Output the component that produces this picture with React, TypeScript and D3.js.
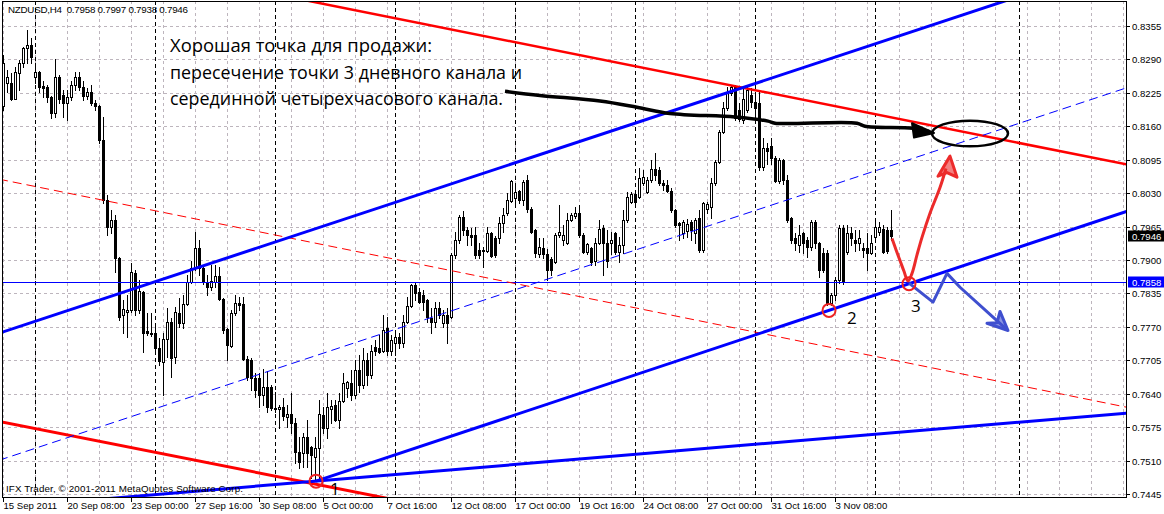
import { useEffect, useRef } from 'react';
import * as d3 from 'd3';

const W = 1164;
const H = 514;

// NZDUSD H4 candles, quotes in 1/10000: open, high, low, close
const candles: number[][] = [
  [8199, 8298, 8191, 8284], [8244, 8269, 8226, 8255], [8244, 8263, 8211, 8214], [8214, 8275, 8213, 8265],
  [8263, 8288, 8230, 8283], [8283, 8314, 8275, 8312], [8312, 8347, 8284, 8318], [8319, 8331, 8284, 8294],
  [8255, 8284, 8244, 8265], [8265, 8267, 8226, 8236], [8238, 8249, 8216, 8234], [8236, 8240, 8207, 8216],
  [8216, 8218, 8176, 8185], [8185, 8290, 8178, 8255], [8255, 8259, 8205, 8214], [8220, 8230, 8178, 8205],
  [8205, 8230, 8172, 8216], [8216, 8249, 8211, 8240], [8240, 8265, 8230, 8255], [8255, 8265, 8230, 8236],
  [8236, 8249, 8211, 8218], [8218, 8234, 8214, 8226], [8226, 8240, 8201, 8205], [8205, 8211, 8191, 8199],
  [8199, 8201, 8127, 8133], [8133, 8178, 8010, 8016], [8016, 8026, 7948, 7964], [7964, 7997, 7952, 7977],
  [7977, 7987, 7876, 7903], [7903, 7905, 7783, 7789], [7793, 7822, 7759, 7804], [7798, 7831, 7750, 7802],
  [7802, 7894, 7798, 7876], [7874, 7880, 7793, 7802], [7802, 7861, 7796, 7839], [7837, 7839, 7721, 7759],
  [7761, 7796, 7754, 7758], [7759, 7796, 7752, 7757], [7758, 7777, 7721, 7728], [7728, 7748, 7695, 7703],
  [7701, 7758, 7637, 7746], [7746, 7806, 7711, 7779], [7779, 7787, 7672, 7709], [7711, 7808, 7699, 7798],
  [7796, 7826, 7769, 7777], [7777, 7831, 7767, 7814], [7814, 7870, 7812, 7857], [7857, 7899, 7855, 7884],
  [7884, 7954, 7880, 7923], [7923, 7938, 7870, 7884], [7884, 7890, 7853, 7857], [7857, 7870, 7831, 7847],
  [7847, 7890, 7841, 7859], [7857, 7890, 7847, 7868], [7868, 7886, 7822, 7824], [7824, 7826, 7759, 7763],
  [7765, 7767, 7705, 7734], [7732, 7802, 7730, 7796], [7796, 7831, 7793, 7816], [7816, 7828, 7802, 7812],
  [7814, 7828, 7705, 7707], [7707, 7713, 7666, 7672], [7705, 7709, 7647, 7670], [7670, 7680, 7633, 7647],
  [7670, 7680, 7614, 7637], [7637, 7689, 7618, 7653], [7653, 7684, 7604, 7614], [7653, 7656, 7608, 7612],
  [7612, 7643, 7604, 7610], [7610, 7618, 7573, 7614], [7614, 7631, 7588, 7596], [7594, 7618, 7575, 7600],
  [7600, 7641, 7563, 7584], [7584, 7592, 7505, 7526], [7526, 7555, 7495, 7507], [7524, 7563, 7497, 7555],
  [7555, 7588, 7497, 7524], [7536, 7538, 7476, 7520], [7516, 7555, 7472, 7534], [7534, 7628, 7472, 7600],
  [7598, 7614, 7563, 7573], [7573, 7641, 7553, 7614], [7610, 7628, 7583, 7616], [7618, 7628, 7586, 7588],
  [7588, 7641, 7573, 7625], [7625, 7680, 7623, 7660], [7651, 7665, 7633, 7662], [7660, 7686, 7627, 7637],
  [7637, 7705, 7631, 7686], [7686, 7715, 7643, 7656], [7656, 7728, 7651, 7705], [7705, 7719, 7656, 7676],
  [7676, 7734, 7670, 7724], [7730, 7745, 7715, 7724], [7728, 7754, 7719, 7722], [7724, 7793, 7721, 7763],
  [7767, 7789, 7715, 7724], [7724, 7754, 7715, 7745], [7739, 7761, 7715, 7750], [7750, 7758, 7728, 7739],
  [7739, 7793, 7730, 7779], [7779, 7828, 7777, 7810], [7810, 7853, 7808, 7851], [7851, 7855, 7822, 7835],
  [7837, 7845, 7816, 7818], [7831, 7842, 7802, 7818], [7822, 7824, 7779, 7789], [7787, 7806, 7758, 7779],
  [7779, 7818, 7769, 7806], [7806, 7818, 7787, 7794], [7777, 7802, 7769, 7794], [7794, 7806, 7739, 7777],
  [7789, 7913, 7787, 7909], [7909, 7954, 7903, 7938], [7938, 7987, 7934, 7983], [7983, 7995, 7948, 7958],
  [7958, 7964, 7929, 7948], [7948, 7962, 7929, 7944], [7948, 7964, 7903, 7909], [7919, 7933, 7903, 7909],
  [7917, 7925, 7886, 7919], [7917, 7964, 7915, 7952], [7952, 7954, 7905, 7907], [7942, 7946, 7905, 7909],
  [7942, 7983, 7934, 7971], [7971, 8001, 7954, 7987], [7991, 8030, 7987, 8016], [8014, 8055, 8012, 8053],
  [8020, 8045, 8010, 8032], [8034, 8036, 8010, 8016], [8016, 8055, 8006, 8051], [8055, 8065, 7993, 7999],
  [7999, 8003, 7952, 7954], [7958, 7960, 7905, 7913], [7911, 7942, 7905, 7925], [7923, 7942, 7903, 7911],
  [7911, 7921, 7861, 7880], [7901, 7905, 7870, 7880], [7896, 7952, 7894, 7948], [7948, 8006, 7944, 7954],
  [7938, 7968, 7929, 7948], [7934, 7991, 7932, 7977], [7977, 7991, 7975, 7987], [7985, 8003, 7981, 7991],
  [7991, 8006, 7944, 7948], [7948, 7952, 7913, 7915], [7915, 7933, 7911, 7931], [7923, 7925, 7890, 7896],
  [7899, 7942, 7890, 7934], [7934, 7977, 7932, 7960], [7962, 7969, 7870, 7933], [7933, 7958, 7886, 7899],
  [7933, 7954, 7911, 7938], [7952, 7954, 7911, 7915], [7915, 7944, 7896, 7929], [7929, 7997, 7913, 7977],
  [7977, 8032, 7973, 8022], [8012, 8032, 8010, 8028], [8028, 8032, 8006, 8012], [8022, 8078, 8020, 8059],
  [8049, 8075, 8045, 8061], [8032, 8061, 8030, 8055], [8055, 8095, 8051, 8076], [8076, 8108, 8055, 8065],
  [8075, 8080, 8045, 8049], [8049, 8055, 8036, 8045], [8045, 8055, 8032, 8034], [8034, 8040, 7993, 7997],
  [7997, 7999, 7964, 7968], [7971, 7973, 7938, 7968], [7952, 7977, 7942, 7973], [7956, 7980, 7944, 7970],
  [7973, 7977, 7938, 7958], [7952, 7981, 7933, 7977], [7981, 7997, 7915, 7919], [7919, 8012, 7915, 8010],
  [7999, 8012, 7991, 8008], [8003, 8059, 7981, 8049], [8049, 8095, 8045, 8090], [8090, 8152, 8088, 8148],
  [8148, 8207, 8146, 8195], [8195, 8236, 8191, 8226], [8224, 8240, 8220, 8236], [8236, 8240, 8172, 8176],
  [8191, 8205, 8170, 8174], [8172, 8236, 8166, 8214], [8191, 8240, 8187, 8230], [8220, 8234, 8197, 8207],
  [8207, 8224, 8172, 8195], [8205, 8226, 8075, 8080], [8080, 8137, 8075, 8118], [8118, 8127, 8086, 8112],
  [8122, 8137, 8086, 8099], [8099, 8103, 8051, 8053], [8053, 8099, 8049, 8095], [8095, 8097, 8047, 8055],
  [8055, 8065, 7973, 7977], [7981, 7983, 7933, 7938], [7942, 7952, 7919, 7934], [7929, 7968, 7915, 7948],
  [7952, 7954, 7913, 7933], [7938, 7944, 7905, 7925], [7925, 7977, 7919, 7973], [7973, 7977, 7923, 7933],
  [7933, 7935, 7866, 7880], [7913, 7923, 7876, 7880], [7913, 7919, 7812, 7816], [7816, 7835, 7812, 7831],
  [7831, 7866, 7822, 7861], [7861, 7968, 7855, 7962], [7962, 7968, 7853, 7857], [7915, 7968, 7911, 7952],
  [7952, 7964, 7929, 7942], [7938, 7958, 7917, 7934], [7934, 7958, 7919, 7942], [7923, 7934, 7905, 7919],
  [7923, 7952, 7880, 7913], [7913, 7948, 7911, 7934], [7944, 7977, 7942, 7964], [7954, 7973, 7948, 7964],
  [7960, 7968, 7913, 7915], [7958, 7964, 7913, 7917], [7958, 7997, 7938, 7946],
];

const priceTicks = [7445, 7510, 7575, 7640, 7705, 7770, 7835, 7900, 7965, 8030, 8095, 8160, 8225, 8290, 8355];
const dateLabels = [
  '15 Sep 2011', '20 Sep 08:00', '23 Sep 00:00', '27 Sep 16:00', '30 Sep 08:00', '5 Oct 00:00', '7 Oct 16:00',
  '12 Oct 08:00', '17 Oct 00:00', '19 Oct 16:00', '24 Oct 08:00', '27 Oct 00:00', '31 Oct 16:00', '3 Nov 08:00',
];
const dateBars = [0, 16, 32, 48, 64, 80, 96, 112, 128, 144, 160, 176, 192, 208];
const weekBars = [8, 38, 68, 98, 128, 158, 188, 218, 254];
const lastBar = 280.75;

// drawn objects, anchors as [bar, quote]
const trendLines = [
  { a: [183, 8238], b: [280.75, 8086], color: '#ff0000', width: 2.5, dash: null, ray: false },
  { a: [-0.25, 8056], b: [280.75, 7614], color: '#ff0000', width: 1, dash: '9,5', ray: false },
  { a: [-0.25, 7585], b: [78.25, 7464], color: '#ff0000', width: 3, dash: null, ray: false },
  { a: [21.75, 7816], b: [86.75, 7983], color: '#0000ff', width: 3, dash: null, ray: false },
  { a: [21.75, 7569], b: [86.75, 7736], color: '#0000ff', width: 1, dash: '9,5', ray: false },
  { a: [78.25, 7470], b: [206.5, 7802], color: '#0000ff', width: 3, dash: null, ray: true },
  { a: [78.25, 7470], b: [280.75, 7602], color: '#0000ff', width: 3, dash: null, ray: false },
];
const levelLine = 7858;
const lastClose = 7946;

const blackArrow = [
  [125.5, 8228], [134.25, 8220], [149.25, 8209], [158.5, 8197], [166.75, 8185], [183, 8178],
  [191.25, 8170], [193, 8166], [213.5, 8166], [215.5, 8160], [227.5, 8156], [231.5, 8150],
];
const blackHead = [[232.75, 8147], [227.25, 8166], [227.75, 8138]];
const target = { bar: 241.75, quote: 8146, rBars: 9.5, rQuote: 25 };

const points = [
  { bar: 78.25, quote: 7470, label: '1', dx: 14, dy: 14 },
  { bar: 206.5, quote: 7802, label: '2', dx: 18, dy: 14 },
  { bar: 226.5, quote: 7854, label: '3', dx: 2, dy: 28 },
];
const redArrow = [
  [222.25, 7942], [223.25, 7920], [224.25, 7899], [225.25, 7878], [226.25, 7859], [227.25, 7874],
  [228.5, 7910], [229.75, 7944], [231.75, 7991], [234.25, 8041], [235.75, 8078],
];
const redHead = [[236.75, 8102], [233.75, 8063], [236, 8070], [238.5, 8061]];
const blueArrow = [
  [226.5, 7855], [232.5, 7818], [236, 7874], [239.25, 7847], [247.5, 7789], [250.5, 7768],
];
const blueHead = [[251.25, 7763], [246, 7777], [248.5, 7778], [249.25, 7800]];

const noteLines = [
  'Хорошая точка для продажи:',
  'пересечение точки 3 дневного канала и',
  'серединной четырехчасового канала.',
];

export default function App() {
  const svgRef = useRef<SVGSVGElement | null>(null);

  useEffect(() => {
    if (!svgRef.current) return;
    const svg = d3.select(svgRef.current);
    svg.selectAll('*').remove();

    const left = 2,
      right = 1126,
      top = 1,
      bottom = 497;
    const x = d3.scaleLinear().domain([0, lastBar]).range([3, 1126]);
    const y = d3.scaleLinear().domain([7445, 8355]).range([494, 26]);
    const font = '"Liberation Sans", Arial, sans-serif';

    svg.append('rect').attr('width', W).attr('height', H).attr('fill', '#fff');

    const defs = svg.append('defs');
    defs
      .append('clipPath')
      .attr('id', 'plot')
      .append('rect')
      .attr('x', left)
      .attr('y', top)
      .attr('width', right - left)
      .attr('height', bottom - top);

    // grid
    const grid = svg.append('g').attr('shape-rendering', 'crispEdges');
    priceTicks.forEach((p) => {
      const yy = Math.round(y(p)) + 0.5;
      grid
        .append('line')
        .attr('x1', left)
        .attr('x2', right)
        .attr('y1', yy)
        .attr('y2', yy)
        .attr('stroke', '#bdb5bd')
        .attr('stroke-dasharray', '3,3');
    });
    d3.range(0, lastBar, 8).forEach((b) => {
      const xx = Math.round(x(b)) + 0.5;
      grid
        .append('line')
        .attr('x1', xx)
        .attr('x2', xx)
        .attr('y1', top)
        .attr('y2', bottom)
        .attr('stroke', '#bdb5bd')
        .attr('stroke-dasharray', '3,3');
    });
    weekBars.forEach((b) => {
      const xx = Math.round(x(b)) + 0.5;
      grid
        .append('line')
        .attr('x1', xx)
        .attr('x2', xx)
        .attr('y1', top)
        .attr('y2', bottom)
        .attr('stroke', '#000')
        .attr('stroke-dasharray', '4,3');
    });

    const plot = svg.append('g').attr('clip-path', 'url(#plot)');

    // candles
    const cg = plot.append('g').attr('shape-rendering', 'crispEdges');
    candles.forEach(([o, h, l, c], i) => {
      const cx = Math.round(x(i));
      cg.append('line')
        .attr('x1', cx + 0.5)
        .attr('x2', cx + 0.5)
        .attr('y1', Math.round(y(h)))
        .attr('y2', Math.round(y(l)) + 1)
        .attr('stroke', '#000');
      const y0 = Math.round(y(Math.max(o, c)));
      const y1 = Math.round(y(Math.min(o, c)));
      if (c > o) {
        cg.append('rect')
          .attr('x', cx - 0.5)
          .attr('y', y0 + 0.5)
          .attr('width', 2)
          .attr('height', Math.max(y1 - y0, 1))
          .attr('fill', '#fff')
          .attr('stroke', '#000');
      } else {
        cg.append('rect')
          .attr('x', cx - 1)
          .attr('y', y0)
          .attr('width', 3)
          .attr('height', Math.max(y1 - y0, 1) + 1)
          .attr('fill', '#000');
      }
    });

    // horizontal level
    plot
      .append('line')
      .attr('x1', left)
      .attr('x2', right)
      .attr('y1', Math.round(y(levelLine)) + 0.5)
      .attr('y2', Math.round(y(levelLine)) + 0.5)
      .attr('stroke', '#0000ff')
      .attr('shape-rendering', 'crispEdges');

    // channel lines
    trendLines.forEach((t) => {
      const slope = (t.b[1] - t.a[1]) / (t.b[0] - t.a[0]);
      const b0 = t.ray ? t.a[0] : -1;
      const b1 = lastBar + 1;
      const ln = plot
        .append('line')
        .attr('x1', x(b0))
        .attr('y1', y(t.a[1] + slope * (b0 - t.a[0])))
        .attr('x2', x(b1))
        .attr('y2', y(t.a[1] + slope * (b1 - t.a[0])))
        .attr('stroke', t.color)
        .attr('stroke-width', t.width);
      if (t.dash) ln.attr('stroke-dasharray', t.dash);
    });

    // hand drawn marks
    const path = d3
      .line<number[]>()
      .x((d) => x(d[0]))
      .y((d) => y(d[1]))
      .curve(d3.curveCatmullRom.alpha(0.5));
    const poly = d3
      .line<number[]>()
      .x((d) => x(d[0]))
      .y((d) => y(d[1]));

    plot
      .append('path')
      .attr('d', path(blackArrow)!)
      .attr('fill', 'none')
      .attr('stroke', '#000')
      .attr('stroke-width', 3.5)
      .attr('stroke-linejoin', 'round');
    plot
      .append('path')
      .attr('d', poly(blackHead)! + 'Z')
      .attr('fill', '#000')
      .attr('stroke', '#000')
      .attr('stroke-width', 2)
      .attr('stroke-linejoin', 'round');
    plot
      .append('ellipse')
      .attr('cx', x(target.bar))
      .attr('cy', y(target.quote))
      .attr('rx', x(target.bar + target.rBars) - x(target.bar))
      .attr('ry', y(target.quote - target.rQuote) - y(target.quote))
      .attr('fill', 'none')
      .attr('stroke', '#000')
      .attr('stroke-width', 2.5);

    plot
      .append('path')
      .attr('d', path(redArrow)!)
      .attr('fill', 'none')
      .attr('stroke', '#ec2b2b')
      .attr('stroke-width', 3)
      .attr('stroke-linejoin', 'round');
    plot
      .append('path')
      .attr('d', poly(redHead)! + 'Z')
      .attr('fill', '#ec2b2b')
      .attr('fill-opacity', 0.6)
      .attr('stroke', '#ec2b2b')
      .attr('stroke-width', 3)
      .attr('stroke-linejoin', 'round');

    plot
      .append('path')
      .attr('d', poly(blueArrow)!)
      .attr('fill', 'none')
      .attr('stroke', '#3f4fcf')
      .attr('stroke-width', 3)
      .attr('stroke-linejoin', 'round');
    plot
      .append('path')
      .attr('d', poly(blueHead)! + 'Z')
      .attr('fill', '#3f4fcf')
      .attr('fill-opacity', 0.6)
      .attr('stroke', '#3f4fcf')
      .attr('stroke-width', 3)
      .attr('stroke-linejoin', 'round');

    points.forEach((p) => {
      plot
        .append('circle')
        .attr('cx', x(p.bar))
        .attr('cy', y(p.quote))
        .attr('r', 6.5)
        .attr('fill', 'none')
        .attr('stroke', '#ee2222')
        .attr('stroke-width', 2);
      plot
        .append('text')
        .attr('x', x(p.bar) + p.dx)
        .attr('y', y(p.quote) + p.dy)
        .attr('font-family', '"Open Sans", "Noto Sans", sans-serif')
        .attr('font-size', 17)
        .attr('fill', '#000')
        .attr('text-anchor', 'start')
        .text(p.label);
    });

    // note
    const noteWidths = [262, 352, 333];
    noteLines.forEach((s, i) => {
      svg
        .append('text')
        .attr('x', 170)
        .attr('y', 52 + i * 26.5)
        .attr('font-family', '"Open Sans", "Noto Sans", sans-serif')
        .attr('font-size', 18)
        .attr('fill', '#000')
        .attr('textLength', noteWidths[i])
        .attr('lengthAdjust', 'spacingAndGlyphs')
        .text(s);
    });

    // frame
    const frame = svg.append('g').attr('shape-rendering', 'crispEdges').attr('stroke', '#000');
    frame.append('line').attr('x1', left + 0.5).attr('x2', left + 0.5).attr('y1', top).attr('y2', bottom + 1);
    frame.append('line').attr('x1', right + 0.5).attr('x2', right + 0.5).attr('y1', top).attr('y2', bottom + 1);
    frame.append('line').attr('x1', left).attr('x2', right + 1).attr('y1', top + 0.5).attr('y2', top + 0.5);
    frame.append('line').attr('x1', left).attr('x2', right + 1).attr('y1', bottom + 0.5).attr('y2', bottom + 0.5);

    // price axis
    const axis = svg.append('g').attr('font-family', font).attr('font-size', 9.6);
    priceTicks.forEach((p) => {
      const yy = Math.round(y(p)) + 0.5;
      axis
        .append('line')
        .attr('x1', right)
        .attr('x2', right + 4)
        .attr('y1', yy)
        .attr('y2', yy)
        .attr('stroke', '#000')
        .attr('shape-rendering', 'crispEdges');
      axis
        .append('text')
        .attr('x', 1132)
        .attr('y', yy + 3.5)
        .attr('fill', '#000')
        .text((p / 10000).toFixed(4));
    });
    [
      { q: levelLine, bg: '#0000ff' },
      { q: lastClose, bg: '#000' },
    ].forEach((b) => {
      const yy = Math.round(y(b.q));
      axis
        .append('rect')
        .attr('x', 1128)
        .attr('y', yy - 5.5)
        .attr('width', 36)
        .attr('height', 11)
        .attr('fill', b.bg);
      axis
        .append('text')
        .attr('x', 1132)
        .attr('y', yy + 4)
        .attr('fill', '#fff')
        .text((b.q / 10000).toFixed(4));
    });

    // time axis
    dateBars.forEach((b, i) => {
      const xx = Math.round(x(b)) + 0.5;
      axis
        .append('line')
        .attr('x1', xx)
        .attr('x2', xx)
        .attr('y1', bottom)
        .attr('y2', bottom + 5)
        .attr('stroke', '#000')
        .attr('shape-rendering', 'crispEdges');
      axis
        .append('text')
        .attr('x', xx)
        .attr('y', 509)
        .attr('fill', '#000')
        .text(dateLabels[i]);
    });

    // header and copyright
    svg
      .append('text')
      .attr('x', 8)
      .attr('y', 13)
      .attr('font-family', font)
      .attr('font-size', 9.8)
      .attr('fill', '#000')
      .attr('textLength', 180)
      .attr('lengthAdjust', 'spacing')
      .attr('xml:space', 'preserve')
      .text('NZDUSD,H4  0.7958 0.7997 0.7938 0.7946');
    svg
      .append('text')
      .attr('x', 6)
      .attr('y', 492)
      .attr('font-family', font)
      .attr('font-size', 9.8)
      .attr('fill', '#000')
      .attr('textLength', 237)
      .attr('lengthAdjust', 'spacing')
      .text('IFX Trader, © 2001-2011 MetaQuotes Software Corp.');
  }, []);

  return (
    <svg
      ref={svgRef}
      width={W}
      height={H}
      style={{ position: 'absolute', left: 0, top: 0, display: 'block' }}
    />
  );
}
